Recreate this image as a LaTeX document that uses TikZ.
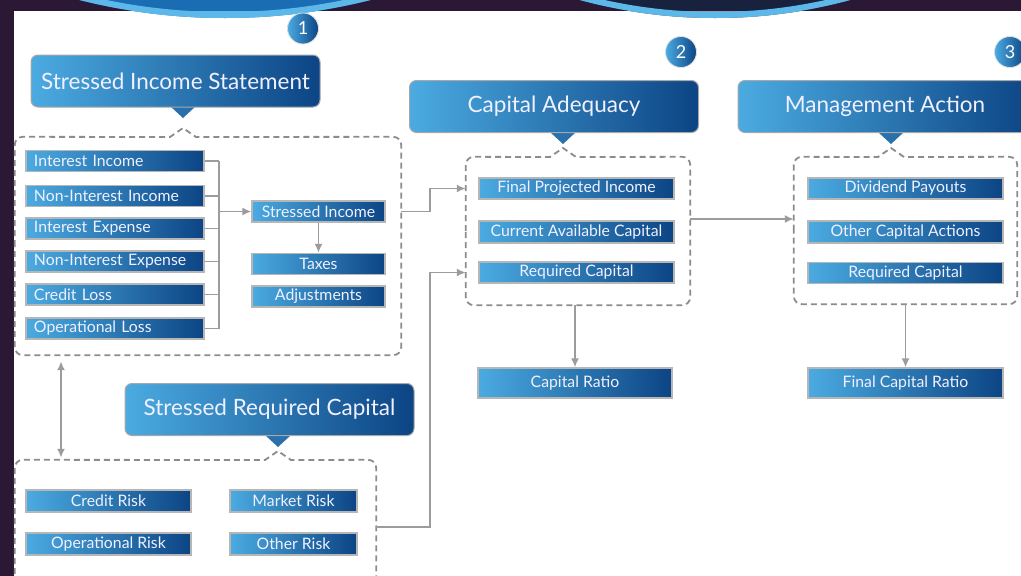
\documentclass[tikz,border=0pt]{standalone}
\usepackage{fontspec}
\setmainfont{Lato}
\usetikzlibrary{arrows.meta,calc}
\definecolor{gl}{HTML}{4BABE1}
\definecolor{gd}{HTML}{0C4484}
\definecolor{gm}{HTML}{2A70AC}
\definecolor{boxgray}{HTML}{B6B6B6}
\definecolor{tgray}{HTML}{A8A8A8}
\definecolor{lineg}{HTML}{9C9C9C}
\definecolor{dashg}{HTML}{8C8C8C}
\definecolor{bandcol}{HTML}{2B1834}
\definecolor{ringblue}{HTML}{5DB8EA}
\definecolor{circblue}{HTML}{1B6DB3}
\definecolor{circnavy}{HTML}{18223E}
\begin{document}
\begin{tikzpicture}[x=1pt,y=-1pt,
  item/.style={draw=boxgray, line width=1.3pt, left color=gl, right color=gd, text=white!94!blue,
    font=\fontsize{15.8}{17}\selectfont, minimum height=21pt, inner sep=0pt},
  leftitem/.style={item, text width=162pt, align=left, inner xsep=8pt},
  titlebox/.style={draw=tgray, line width=1pt, rounded corners=7pt, left color=gl, right color=gd,
    text=white!94!blue, font=\fontsize{22.5}{26}\selectfont, minimum height=52pt, minimum width=289pt},
  badge/.style={circle, draw=white!75!gray, line width=0.8pt, left color=gl, right color=gd,
    text=white, font=\fontsize{18}{20}\selectfont, minimum size=31pt, inner sep=0pt},
  ghost/.style={inner sep=0pt, draw=none},
  conn/.style={draw=lineg, line width=1.8pt},
  arr/.style={conn, -{Latex[length=9pt,width=8pt]}},
  dframe/.style={draw=dashg, line width=1.8pt, dash pattern=on 6pt off 4pt},
  pointer/.style={fill=gm, draw=none}
]
\useasboundingbox (0,0) rectangle (1021,576);
\clip (0,0) rectangle (1021,576);
% background
\fill[white] (0,0) rectangle (1021,576);
\fill[bandcol] (0,0) rectangle (1021,11);
\fill[bandcol] (0,0) rectangle (14,576);
% big circles at top
\fill[circblue] (225,-575) circle[radius=593pt];
\begin{scope}
  \clip (0,11) rectangle (1021,40);
  \fill[ringblue] (225,-575) circle[radius=593pt];
\end{scope}
\draw[ringblue, line width=6pt] (225,-575) circle[radius=590pt];
\fill[circnavy] (715,-497) circle[radius=515pt];
\begin{scope}
  \clip (0,11) rectangle (1021,40);
  \fill[white!55!circnavy] (715,-497) circle[radius=515pt];
\end{scope}
\draw[ringblue, line width=6pt] (715,-497) circle[radius=512pt];

% badges
\node[badge] (n1) at (303,28.5) {1};
\node[badge] (n2) at (681,52) {2};
\node[badge] (n3) at (1010,52) {3};

% title callouts
\fill[pointer] (170,106) -- (196,106) -- (183,118) -- cycle;
\node[titlebox] (t1) at (175.5,81) {Stressed Income Statement};
\fill[pointer] (550,132) -- (576,132) -- (563,144) -- cycle;
\node[titlebox] (t2) at (554,106.5) {Capital Adequacy};
\fill[pointer] (878,132) -- (904,132) -- (891,144) -- cycle;
\node[titlebox, minimum width=294pt] (t3) at (885,106.5) {Management Action};
\fill[pointer] (265,435) -- (291,435) -- (278,447) -- cycle;
\node[titlebox] (t4) at (269.5,409.5) {Stressed Required Capital};

% dashed frames (ghost nodes + drawn outlines with caret)
\node[ghost, minimum width=386pt, minimum height=218pt] (b1) at (208,246) {};
\node[ghost, minimum width=224pt, minimum height=148pt] (b2) at (578,231) {};
\node[ghost, minimum width=223pt, minimum height=147pt] (b3) at (905.5,230.5) {};
\node[ghost, minimum width=361pt, minimum height=134pt] (b4) at (195.5,527) {};
\coordinate (c1) at (183,137);
\coordinate (c2) at (563,157);
\coordinate (c3) at (891,157);
\coordinate (c4) at (278,460);
\draw[dframe] (b1.west) [rounded corners=8pt] -- (b1.north west) [sharp corners] -- ([xshift=-13pt]c1) -- ([yshift=9pt]c1) -- ([xshift=13pt]c1) [rounded corners=8pt] -- (b1.north east) -- (b1.south east) -- (b1.south west) [sharp corners] -- cycle;
\draw[dframe] (b2.west) [rounded corners=8pt] -- (b2.north west) [sharp corners] -- ([xshift=-13pt]c2) -- ([yshift=9pt]c2) -- ([xshift=13pt]c2) [rounded corners=8pt] -- (b2.north east) -- (b2.south east) -- (b2.south west) [sharp corners] -- cycle;
\draw[dframe] (b3.west) [rounded corners=8pt] -- (b3.north west) [sharp corners] -- ([xshift=-13pt]c3) -- ([yshift=9pt]c3) -- ([xshift=13pt]c3) [rounded corners=8pt] -- (b3.north east) -- (b3.south east) -- (b3.south west) [sharp corners] -- cycle;
\draw[dframe] (b4.south west) [rounded corners=8pt] -- (b4.north west) [sharp corners] -- ([xshift=-13pt]c4) -- ([yshift=9pt]c4) -- ([xshift=13pt]c4) [rounded corners=8pt] -- (b4.north east) [sharp corners] -- (b4.south east);

% box 1 items
\node[leftitem] (ii)  at (115,161) {Interest Income};
\node[leftitem] (nii) at (115,196) {Non-Interest Income};
\node[leftitem] (ie)  at (115,228.5) {Interest Expense};
\node[leftitem] (nie) at (115,261.5) {Non-Interest Expense};
\node[leftitem] (cl)  at (115,294.5) {Credit Loss};
\node[leftitem] (ol)  at (115,328.5) {Operational Loss};
\node[item, minimum width=133pt] (si)  at (318.5,211.5) {Stressed Income};
\node[item, minimum width=133pt] (tax) at (318.5,264) {Taxes};
\node[item, minimum width=133pt] (adj) at (318.5,296.5) {Adjustments};

% box 2 items
\node[item, minimum width=195pt] (fpi) at (576.5,188.5) {Final Projected Income};
\node[item, minimum width=195pt, minimum height=22pt] (cac) at (576.5,232) {Current Available Capital};
\node[item, minimum width=195pt] (rc)  at (576.5,272.5) {Required Capital};
\node[item, minimum width=194pt, minimum height=30pt] (cr) at (575,383) {Capital Ratio};

% box 3 items
\node[item, minimum width=195pt] (dp)  at (905.5,188.5) {Dividend Payouts};
\node[item, minimum width=195pt, minimum height=22pt] (oca) at (905.5,232) {Other Capital Actions};
\node[item, minimum width=195pt] (rc2) at (905.5,273) {Required Capital};
\node[item, minimum width=195pt, minimum height=30pt] (fcr) at (905.5,383) {Final Capital Ratio};

% box 4 items
\node[item, minimum width=165pt, minimum height=22pt] (crk) at (108.5,501) {Credit Risk};
\node[item, minimum width=127pt, minimum height=22pt] (mrk) at (293.5,501) {Market Risk};
\node[item, minimum width=165pt, minimum height=22pt] (ork) at (108.5,544) {Operational Risk};
\node[item, minimum width=127pt, minimum height=22pt] (otk) at (293.5,544) {Other Risk};

% bracket inside box 1
\coordinate (brk) at (219,0);
\foreach \n in {ii,nii,ie,nie,cl,ol}{
  \draw[conn] (\n.east) -- (\n.east -| brk);
}
\draw[conn] (brk |- ii.east) -- (brk |- ol.east);
\draw[arr] (brk |- si.west) -- (si.west);
\draw[arr] (si.south) -- (tax.north);

% connectors between frames
\coordinate (j1) at (430,0);
\draw[arr] (b1.east |- si.east) -- (j1 |- si.east) -- (j1 |- fpi.west) -- (b2.west |- fpi.west);
\draw[arr] (b4.east) -- (j1 |- b4.east) -- (j1 |- rc.west) -- (b2.west |- rc.west);
\coordinate (m23) at (0,219);
\draw[arr] (b2.east |- m23) -- (b3.west |- m23);
\draw[arr] (b2.south -| cr.north) -- (cr.north);
\draw[arr] (b3.south -| fcr.north) -- (fcr.north);
\coordinate (x61) at (61,0);
\draw[conn, {Latex[length=9pt,width=8pt]}-{Latex[length=9pt,width=8pt]}, shorten <=6pt, shorten >=2pt] (b1.south -| x61) -- (b4.north -| x61);
\end{tikzpicture}
\end{document}
